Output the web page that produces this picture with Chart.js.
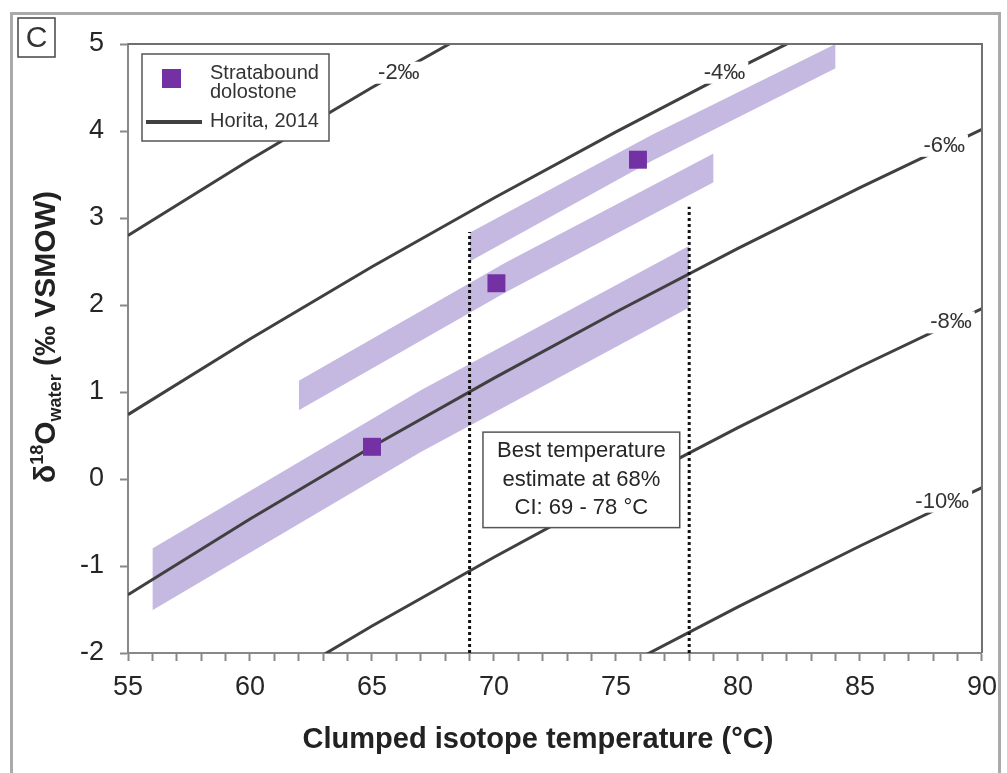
<!DOCTYPE html>
<html lang="en">
<head>
<meta charset="UTF-8">
<title>Clumped isotope temperature vs d18O water</title>
<script src="https://cdn.jsdelivr.net/npm/chart.js"></script>
<style>
  body { margin: 0; background: #fff; }
  #wrap { width: 1007px; height: 773px; }
</style>
</head>
<body>
<div id="wrap"><canvas id="isoChart" width="1007" height="773"></canvas></div>
<script>
// Horita (2014) iso-lines, every 5 °C
const isoTemps   = [55, 60, 65, 70, 75, 80, 85, 90];
const isoMinus2  = [2.80, 3.67, 4.50, 5.29, 6.05, 6.78, 7.48, 8.15];
const isoMinus4  = [0.74, 1.61, 2.44, 3.23, 3.99, 4.72, 5.42, 6.09];
const isoMinus6  = [-1.33, -0.46, 0.37, 1.16, 1.92, 2.65, 3.35, 4.02];
const isoMinus8  = [-3.39, -2.52, -1.69, -0.90, -0.14, 0.59, 1.29, 1.96];
const isoMinus10 = [-5.45, -4.58, -3.75, -2.96, -2.20, -1.47, -0.77, -0.10];

// labels written on the iso-lines
const isoLabels = ['-2‰', '-4‰', '-6‰', '-8‰', '-10‰'];
const isoLabelT = [66.1, 79.45, 88.45, 88.73, 88.37];
const isoLabelD = [4.67, 4.67, 3.83, 1.80, -0.26];

// uncertainty bands (upper / lower edge)
const band1T  = [56, 67, 78];
const band1Hi = [-0.80, 1.02, 2.68];
const band1Lo = [-1.51, 0.31, 1.97];
const band2T  = [62, 70.5, 79];
const band2Hi = [1.13, 2.49, 3.74];
const band2Lo = [0.79, 2.15, 3.41];
const band3T  = [69, 76.5, 84];
const band3Hi = [2.83, 3.96, 5.00];
const band3Lo = [2.50, 3.66, 4.72];

// stratabound dolostone samples
const sampleT = [65.0, 70.1, 75.9];
const sampleD = [0.37, 2.25, 3.67];

// 68% CI of best temperature
const ciTemps = [69, 78];
const ciTops  = [2.84, 3.13];
const ciNote  = ['Best temperature', 'estimate at 68%', 'CI: 69 - 78 °C'];
const ciNoteT = 73.58;
const ciNoteD = -0.01;

const FONT = '"Liberation Sans", Arial, sans-serif';
const BAND = 'rgb(197,184,225)';
const PURPLE = '#7431a4';
const LINE = '#404040';

function toXY(xs, ys) {
  return xs.map((v, i) => ({ x: v, y: ys[i] }));
}

function band(xs, hi, lo) {
  return [
    { data: toXY(xs, hi), borderColor: 'rgba(0,0,0,0)', borderWidth: 0, pointRadius: 0, fill: false, order: 3 },
    { data: toXY(xs, lo), borderColor: 'rgba(0,0,0,0)', borderWidth: 0, pointRadius: 0, fill: '-1', backgroundColor: BAND, order: 3 }
  ];
}

let datasets = [];
datasets = datasets.concat(band(band1T, band1Hi, band1Lo));
datasets = datasets.concat(band(band2T, band2Hi, band2Lo));
datasets = datasets.concat(band(band3T, band3Hi, band3Lo));

[isoMinus2, isoMinus4, isoMinus6, isoMinus8, isoMinus10].forEach(d => {
  datasets.push({ data: toXY(isoTemps, d), borderColor: LINE, borderWidth: 3, pointRadius: 0, fill: false, order: 2 });
});

ciTemps.forEach((t, i) => {
  datasets.push({
    data: [{ x: t, y: -2 }, { x: t, y: ciTops[i] }],
    borderColor: '#111', borderWidth: 3, borderDash: [3, 3], pointRadius: 0, fill: false, order: 1
  });
});

datasets.push({
  data: toXY(sampleT, sampleD), showLine: false, pointStyle: 'rect', pointRadius: 12.7,
  backgroundColor: PURPLE, borderWidth: 0, order: 0
});

// extra drawing: labels, note box, legend, frames, y title
const decor = {
  id: 'decor',
  afterDatasetsDraw(chart) {
    const { ctx, chartArea: a, scales: { x, y } } = chart;
    ctx.save();

    // iso-line labels with a white knock-out
    ctx.font = '22px ' + FONT;
    ctx.textAlign = 'center';
    ctx.textBaseline = 'middle';
    isoLabels.forEach((t, i) => {
      const px = x.getPixelForValue(isoLabelT[i]);
      const py = y.getPixelForValue(isoLabelD[i]);
      const w = ctx.measureText(t).width;
      ctx.fillStyle = '#fff';
      ctx.fillRect(px - w / 2 - 3, py - 11, w + 6, 22);
      ctx.fillStyle = '#333';
      ctx.fillText(t, px, py);
    });

    // note box
    const bw = Math.max(...ciNote.map(s => ctx.measureText(s).width)) + 28;
    const lh = 28.5, bh = ciNote.length * lh + 10;
    const cx = x.getPixelForValue(ciNoteT), cy = y.getPixelForValue(ciNoteD);
    ctx.fillStyle = '#fff';
    ctx.fillRect(cx - bw / 2, cy - bh / 2, bw, bh);
    ctx.strokeStyle = '#555';
    ctx.lineWidth = 1.5;
    ctx.strokeRect(cx - bw / 2, cy - bh / 2, bw, bh);
    ctx.fillStyle = '#262626';
    ciNote.forEach((s, i) => ctx.fillText(s, cx, cy - bh / 2 + 5 + lh * (i + 0.5)));

    // legend
    const lx = a.left + 14, ly = a.top + 10;
    ctx.fillStyle = '#fff';
    ctx.fillRect(lx, ly, 187, 87);
    ctx.strokeStyle = '#555';
    ctx.strokeRect(lx, ly, 187, 87);
    ctx.fillStyle = PURPLE;
    ctx.fillRect(lx + 20, ly + 15, 19, 19);
    ctx.strokeStyle = LINE;
    ctx.lineWidth = 4;
    ctx.beginPath();
    ctx.moveTo(lx + 4, ly + 68);
    ctx.lineTo(lx + 60, ly + 68);
    ctx.stroke();
    ctx.font = '20px ' + FONT;
    ctx.textAlign = 'left';
    ctx.fillStyle = '#333';
    ctx.fillText('Stratabound', lx + 68, ly + 19);
    ctx.fillText('dolostone', lx + 68, ly + 38);
    ctx.fillText('Horita, 2014', lx + 68, ly + 67);

    // top and right frame of the plot
    ctx.strokeStyle = '#707070';
    ctx.lineWidth = 2;
    ctx.beginPath();
    ctx.moveTo(a.left, a.top);
    ctx.lineTo(a.right, a.top);
    ctx.lineTo(a.right, a.bottom);
    ctx.stroke();
    ctx.restore();
  },
  afterDraw(chart) {
    const { ctx } = chart;
    ctx.save();
    // outer panel frame
    ctx.strokeStyle = '#aaa';
    ctx.lineWidth = 3;
    ctx.strokeRect(11.5, 13.5, 988, 800);

    // panel letter
    ctx.strokeStyle = '#444';
    ctx.lineWidth = 1.5;
    ctx.strokeRect(18, 18, 37, 39);
    ctx.fillStyle = '#333';
    ctx.font = '30px ' + FONT;
    ctx.textAlign = 'center';
    ctx.textBaseline = 'middle';
    ctx.fillText('C', 36.5, 38.5);

    // x title
    ctx.font = 'bold 29px ' + FONT;
    ctx.fillStyle = '#222';
    ctx.textBaseline = 'alphabetic';
    ctx.fillText('Clumped isotope temperature (°C)', 538, 748);

    // y title with super/subscript
    const parts = [
      { t: 'δ', f: 'bold 30px ', dy: 0 },
      { t: '18', f: 'bold 18px ', dy: -12 },
      { t: 'O', f: 'bold 30px ', dy: 0 },
      { t: 'water', f: 'bold 18px ', dy: 6 },
      { t: ' (‰ VSMOW)', f: 'bold 30px ', dy: 0 }
    ];
    let total = 0;
    parts.forEach(p => { ctx.font = p.f + FONT; p.w = ctx.measureText(p.t).width; total += p.w; });
    ctx.translate(55, 337);
    ctx.rotate(-Math.PI / 2);
    ctx.textAlign = 'left';
    let u = -total / 2;
    parts.forEach(p => {
      ctx.font = p.f + FONT;
      ctx.fillText(p.t, u, p.dy);
      u += p.w;
    });
    ctx.restore();
  }
};

const tickFont = { family: FONT, size: 27 };

new Chart(document.getElementById('isoChart'), {
  type: 'line',
  data: { datasets: datasets },
  options: {
    responsive: false,
    devicePixelRatio: 1,
    animation: false,
    events: [],
    layout: { padding: { top: 44, right: 22, left: 0, bottom: 0 } },
    elements: { line: { tension: 0 } },
    plugins: { legend: { display: false }, tooltip: { enabled: false } },
    scales: {
      x: {
        type: 'linear', min: 55, max: 90,
        ticks: {
          stepSize: 1, autoSkip: false, maxRotation: 0, padding: 10,
          color: '#262626', font: tickFont,
          callback: v => (v % 5 === 0 ? v : '')
        },
        grid: { drawOnChartArea: false, tickLength: 8, tickColor: '#888', tickWidth: 2 },
        border: { color: '#888', width: 2 },
        afterFit: s => { s.height = 120; }
      },
      y: {
        type: 'linear', min: -2, max: 5,
        ticks: { stepSize: 1, padding: 16, color: '#262626', font: tickFont },
        grid: { drawOnChartArea: false, tickLength: 8, tickColor: '#888', tickWidth: 2 },
        border: { color: '#888', width: 2 },
        afterFit: s => { s.width = 128; }
      }
    }
  },
  plugins: [decor]
});
</script>
</body>
</html>
